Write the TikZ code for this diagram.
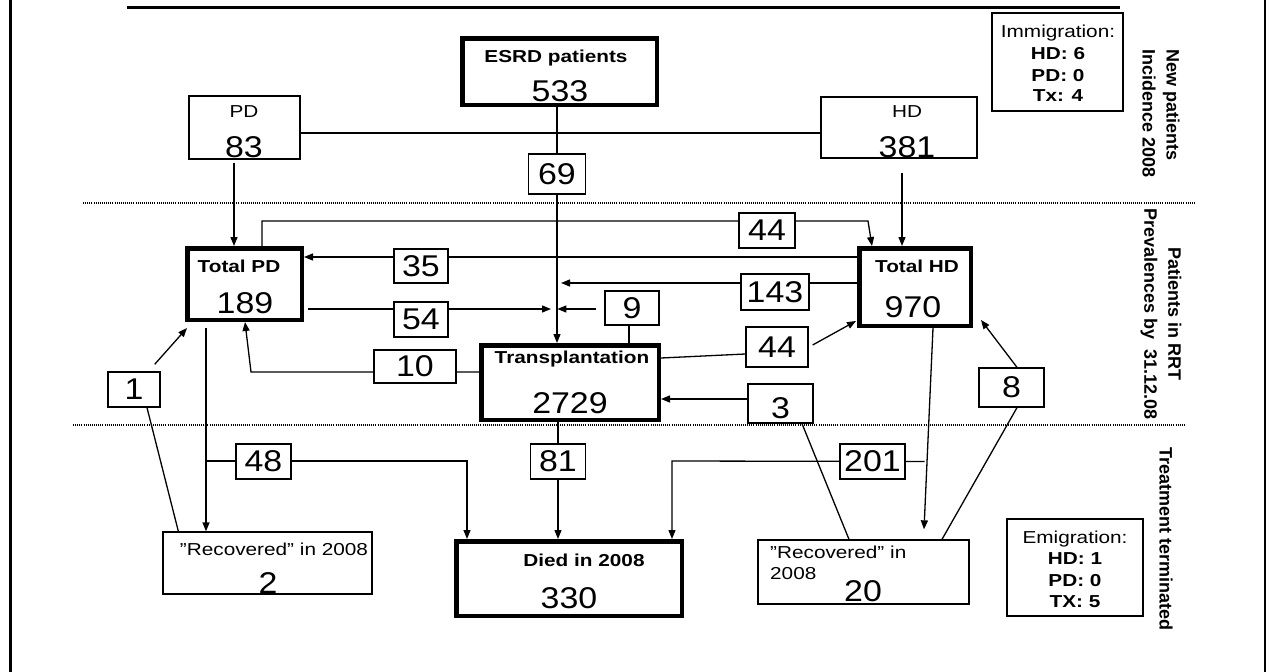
\documentclass[tikz,border=0pt]{standalone}
\usepackage{fontspec}
\setmainfont{Liberation Sans}
\usepackage{graphicx}
\usetikzlibrary{arrows.meta,calc}
\pgfdeclarelayer{bg}
\pgfsetlayers{bg,main}
\newcommand\wx[1]{\scalebox{1.2}[1]{#1}}
\newcommand\wn[1]{\scalebox{1.13}[1]{#1}}
\begin{document}
\begin{tikzpicture}[x=1pt,y=-1pt,
  tbox/.style={draw,line width=1.3pt,fill=white,inner sep=0pt},
  kbox/.style={draw,line width=4.5pt,fill=white,inner sep=0pt},
  numbox/.style={draw,line width=1.3pt,fill=white,inner sep=0pt,font=\fontsize{30}{30}\selectfont},
  lbl/.style={inner sep=0pt,anchor=base,font=\fontsize{17.3}{21}\selectfont},
  blbl/.style={inner sep=0pt,anchor=base,font=\bfseries\fontsize{17.3}{21}\selectfont},
  num/.style={inner sep=0pt,anchor=base,font=\fontsize{30}{30}\selectfont},
  side/.style={inner sep=0pt,rotate=-90,font=\bfseries\fontsize{18}{24}\selectfont},
  conn/.style={line width=1.3pt},
  arr/.style={conn,-{Triangle[length=9pt,width=7pt]}},
  dotline/.style={line width=1.1pt,dash pattern=on 1pt off 1.1pt}
]
\useasboundingbox (0,0) rectangle (1270,672);

% frame and rules
\draw[line width=3pt] (10,0) -- (10,672);
\draw[line width=1.2pt] (1265,0) -- (1265,672);
\draw[line width=3pt] (127,7) -- (1120,7);
\draw[dotline] (83,203) -- (1194,203);
\draw[dotline] (73,425) -- (1184,425);

% main boxes
\node[kbox,minimum width=194.5pt,minimum height=66.5pt] (esrd) at (559.5,71.5) {};
\node[blbl] (esrdt) at (556,62) {\wx{ESRD patients}};
\node[num] (esrdn) at (560,101) {\wn{533}};

\node[tbox,minimum width=111pt,minimum height=63pt] (pd) at (244.5,127.5) {};
\node[lbl] (pdt) at (244,117) {\wx{PD}};
\node[num] (pdn) at (244,157) {\wn{83}};

\node[tbox,minimum width=156pt,minimum height=61pt] (hd) at (899,127.5) {};
\node[lbl] (hdt) at (907,117) {\wx{HD}};
\node[num] (hdn) at (907,157) {\wn{381}};

\node[tbox,minimum width=131pt,minimum height=98pt] (immig) at (1057.5,62) {};
\node[lbl] (imm1) at (1058,37) {\wx{Immigration:}};
\node[blbl] (imm2) at (1058,59) {\wx{HD: 6}};
\node[blbl] (imm3) at (1058,81) {\wx{PD: 0}};
\node[blbl] (imm4) at (1058,101) {\wx{Tx: 4}};

\node[kbox,minimum width=114.5pt,minimum height=71.5pt] (tpd) at (244.5,284) {};
\node[blbl] (tpdt) at (239,272) {\wx{Total PD}};
\node[num] (tpdn) at (245,313) {\wn{189}};

\node[kbox,minimum width=111.5pt,minimum height=77.5pt] (thd) at (915,287) {};
\node[blbl] (thdt) at (917,272) {\wx{Total HD}};
\node[num] (thdn) at (913,317) {\wn{970}};

\node[kbox,minimum width=177.5pt,minimum height=74.5pt] (tx) at (570,382.5) {};
\node[blbl] (txt) at (572,363) {\wx{Transplantation}};
\node[num] (txn) at (570,413) {\wn{2729}};

\node[kbox,minimum width=225.5pt,minimum height=74.5pt] (died) at (569,578.5) {};
\node[blbl] (diedt) at (584,566) {\wx{Died in 2008}};
\node[num] (diedn) at (569,608) {\wn{330}};

\node[tbox,minimum width=209pt,minimum height=62pt] (rec1) at (267.5,563) {};
\node[lbl] (rec1t) at (274,555) {\wx{”Recovered” in 2008}};
\node[num] (rec1n) at (268,593) {\wn{2}};

\node[tbox,minimum width=211pt,minimum height=64pt] (rec2) at (863.5,572) {};
\node[lbl,anchor=base west] (rec2t) at (770,558) {\wx{”Recovered” in}};
\node[lbl,anchor=base west] (rec2u) at (770,579) {\wx{2008}};
\node[num] (rec2n) at (863,601) {\wn{20}};

\node[tbox,minimum width=136pt,minimum height=97pt] (emig) at (1075,567.5) {};
\node[lbl] (emi1) at (1075,543) {\wx{Emigration:}};
\node[blbl] (emi2) at (1075,564) {\wx{HD: 1}};
\node[blbl] (emi3) at (1075,586) {\wx{PD: 0}};
\node[blbl] (emi4) at (1075,607) {\wx{TX: 5}};

% number boxes
\node[numbox,minimum width=57pt,minimum height=40pt] (b69) at (557,174) {\wn{69}};
\node[numbox,minimum width=56pt,minimum height=35pt] (b44a) at (767,230.5) {\wn{44}};
\node[numbox,minimum width=54pt,minimum height=34pt] (b35) at (421,266) {\wn{35}};
\node[numbox,minimum width=68pt,minimum height=36pt] (b143) at (775,292) {\wn{143}};
\node[numbox,minimum width=54pt,minimum height=35pt] (b54) at (421,319.5) {\wn{54}};
\node[numbox,minimum width=54pt,minimum height=34pt] (b9) at (632,308) {\wn{9}};
\node[numbox,minimum width=82pt,minimum height=33pt] (b10) at (415,366.5) {\wn{10}};
\node[numbox,minimum width=62pt,minimum height=40pt] (b44b) at (777,347) {\wn{44}};
\node[numbox,minimum width=52pt,minimum height=35pt] (b1) at (134,389.5) {\wn{1}};
\node[numbox,minimum width=65pt,minimum height=39pt,text height=31pt] (b3) at (780.5,403.5) {\wn{3}};
\node[numbox,minimum width=65pt,minimum height=39pt] (b8) at (1011.5,387.5) {\wn{8}};
\node[numbox,minimum width=55pt,minimum height=35pt] (b48) at (263.5,461.5) {\wn{48}};
\node[numbox,minimum width=55pt,minimum height=35pt] (b81) at (558,461.5) {\wn{81}};
\node[numbox,minimum width=65pt,minimum height=35pt] (b201) at (872.5,461.5) {\wn{201}};

% side labels
\node[side,align=left] (s1) at (1161,113.5) {New patients\\Incidence 2008};
\node[side,align=center] (s2) at (1161,314) {Patients in RRT\\Prevalences by~~31.12.08};
\node[side] (s3) at (1166,539) {Treatment terminated};

% connectors
\begin{pgfonlayer}{bg}
\draw[conn] (b69.north |- esrd.south) -- (b69.north);
\draw[arr] (b69.south) -- (b69.south |- tx.north);
\draw[conn] ($(pd.east)+(0,5.5)$) -- ($(hd.west)+(0,5.5)$);
\draw[arr] ($(pd.south)+(-10.5,3)$) -- ($(tpd.north)+(-10.5,0)$);
\draw[arr] ($(hd.south)+(3,14)$) -- ($(thd.north)+(-13,0)$);
\draw[arr] ($(tpd.north)+(17.5,0)$) -- ($(tpd.north)+(17.5,-25)$) -- ($(thd.north)+(-47,-25)$) -- ($(thd.north)+(-43,0)$);
\draw[arr] ($(thd.west)+(0,-30)$) -- ($(tpd.east)+(0,-27)$);
\draw[arr] ($(thd.west)+(0,-4)$) -- ++(-296,0);
\draw[arr] ($(tpd.east)+(4,25)$) -- ++(243,0);
\draw[arr] ($(b9.west)+(-8,1)$) -- ++(-39,0);
\draw[conn] ($(b9.south)+(-3,0)$) -- ($(b9.south |- tx.north)+(-3,0)$);
\draw[arr] ($(tx.west)+(0,-10.5)$) -- ($(tpd.south)+(6.5,50)$) -- ($(tpd.south)+(0.5,0)$);
\draw[arr] ($(b1.north east)+(-6,-7)$) -- ($(tpd.south west)+(2,6)$);
\draw[conn] ($(b1.south)+(13,0)$) -- ($(rec1.north west)+(16,0)$);
\draw[arr] ($(tpd.south)+(-38.5,6)$) -- ($(rec1.north)+(-61.5,0)$);
\draw[arr] ($(tpd.south)+(-38.5,139)$) -- ($(died.north)+(-102,-78)$) -- ($(died.north)+(-102,0)$);
\draw[conn] (b81.north |- tx.south) -- (b81.north);
\draw[arr] (b81.south) -- (b81.south |- died.north);
\draw[arr] ($(thd.south)+(18,0)$) -- ($(rec2.north)+(60.5,-10)$);
\draw[arr] ($(b201.east)+(19,0)$) -- ($(died.north)+(103,-78)$) -- ($(died.north)+(103,0)$);
\draw[conn] ($(b3.south)+(21.5,0)$) -- ($(rec2.north)+(-14.5,0)$);
\draw[arr] ($(b8.north)+(5.5,0)$) -- ($(thd.south east)+(8,-8)$);
\draw[conn] ($(b8.south)+(5.5,0)$) -- ($(rec2.north)+(78.5,0)$);
\draw[arr] ($(b3.west)+(0,-4.5)$) -- ($(tx.east)+(0,16.5)$);
\draw[conn] ($(tx.east)+(0,-24.5)$) -- ($(b44b.west)+(0,7)$);
\draw[arr] ($(b44b.east)+(4,-2)$) -- ($(thd.south west)+(-1,-7)$);
\end{pgfonlayer}
\end{tikzpicture}
\end{document}
